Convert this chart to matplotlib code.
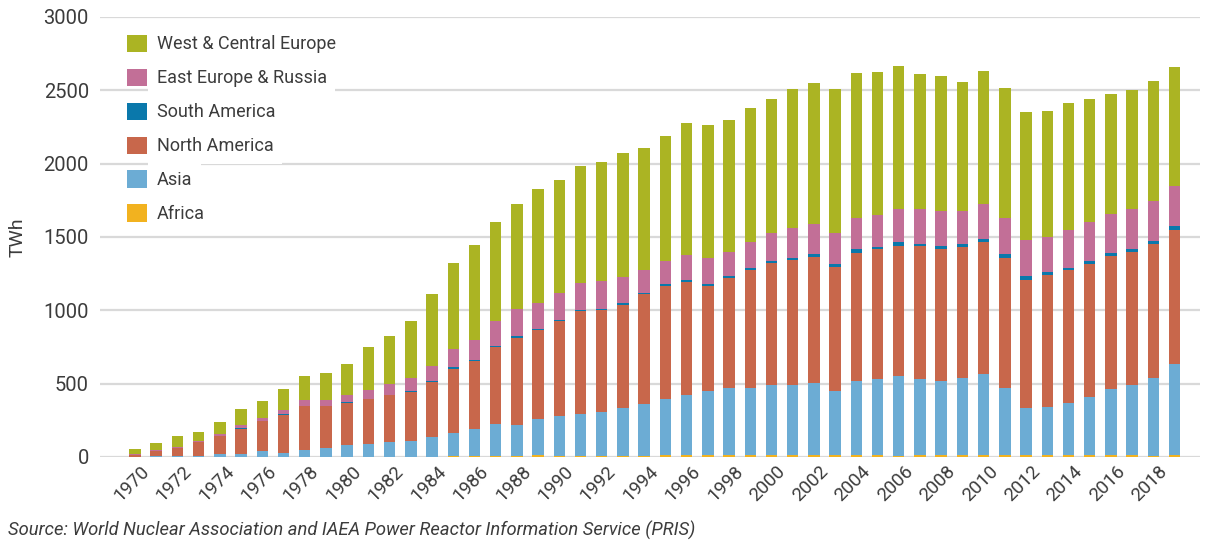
import matplotlib
matplotlib.use('Agg')
import matplotlib.pyplot as plt
import matplotlib.transforms as mtransforms
import numpy as np
from matplotlib.patches import Patch

plt.rcParams['font.family'] = ['Roboto', 'DejaVu Sans']

# ── data (TWh) ────────────────────────────────────────────
years = list(range(1970, 2020))

africa = [0, 0, 0, 0, 0, 0, 0, 0, 0, 0,
          0, 0, 0, 0, 3, 5, 9, 8, 10, 11,
          8, 9, 10, 7, 9, 11, 12, 12, 13, 13,
          13, 11, 12, 13, 14, 12, 10, 12, 12, 12,
          12, 13, 12, 14, 14, 11, 15, 15, 10, 13]
asia = [3, 5, 6, 8, 20, 23, 39, 27, 50, 64,
        84, 90, 105, 112, 133, 161, 180, 220, 211, 251,
        270, 287, 300, 330, 355, 383, 413, 438, 458, 458,
        476, 483, 493, 435, 502, 523, 540, 520, 504, 527,
        557, 458, 325, 327, 357, 398, 449, 474, 529, 619]
north_america = [13, 36, 58, 92, 121, 170, 204, 262, 298, 284,
                 287, 303, 316, 331, 375, 437, 464, 524, 593, 602,
                 647, 700, 695, 702, 746, 772, 769, 719, 750, 807,
                 834, 852, 859, 848, 878, 881, 892, 905, 902, 891,
                 897, 889, 873, 898, 907, 905, 909, 912, 916, 919]
south_america = [0, 0, 0, 0, 2, 2, 2, 3, 3, 3,
                 3, 4, 5, 6, 8, 10, 9, 8, 9, 12,
                 12, 9, 7, 11, 11, 12, 11, 9, 13, 9,
                 12, 14, 20, 20, 22, 16, 22, 18, 22, 22,
                 21, 22, 22, 19, 14, 21, 21, 15, 21, 24]
east_europe = [3, 4, 5, 6, 17, 21, 21, 29, 36, 40,
               51, 62, 74, 90, 102, 122, 134, 165, 186, 177,
               184, 182, 186, 178, 152, 159, 175, 179, 164, 179,
               193, 198, 203, 212, 214, 221, 227, 236, 238, 226,
               241, 250, 246, 240, 259, 266, 261, 275, 270, 271]
west_europe = [33, 53, 74, 65, 79, 109, 119, 145, 163, 182,
               212, 291, 323, 386, 493, 591, 648, 674, 714, 777,
               771, 798, 810, 845, 837, 852, 894, 905, 898, 914,
               914, 952, 966, 978, 989, 973, 974, 917, 918, 880,
               902, 885, 871, 862, 864, 841, 823, 810, 816, 814]

series_names = ['Africa', 'Asia', 'North America', 'South America',
                'East Europe & Russia', 'West & Central Europe']
series_vals = [africa, asia, north_america, south_america,
               east_europe, west_europe]
series_colors = ['#f2b21f', '#6cacd4', '#c8674b', '#0a78ab',
                 '#c26f97', '#abb423']

TXT = '#3c3c3c'
GRID = '#d9d9d9'

fig = plt.figure(figsize=(12.08, 5.43), dpi=100)
ax = fig.add_axes([100 / 1208, 1 - 457 / 543, 1100 / 1208, 440 / 543])

x = np.array(years)
bottom = np.zeros(len(years))
for name, vals, col in zip(series_names, series_vals, series_colors):
    v = np.array(vals, dtype=float)
    ax.bar(x, v, bottom=bottom, width=0.54, color=col, linewidth=0, zorder=2)
    bottom += v

ax.set_ylim(0, 3000)
ax.set_xlim(1968.35, 2020.2)
ax.set_yticks(range(0, 3001, 500))
ax.yaxis.grid(True, color=GRID, linewidth=1.6)
ax.set_axisbelow(True)
for s in ax.spines.values():
    s.set_visible(False)

ax.set_xticks(years[::2])
ax.set_xticklabels([str(y) for y in years[::2]], rotation=45, ha='right',
                   rotation_mode='anchor', fontsize=13.5, color=TXT)
ax.tick_params(axis='x', length=0, pad=4)
shift = mtransforms.ScaledTranslation(5 / 100, 0, fig.dpi_scale_trans)
for lab in ax.get_xticklabels():
    lab.set_transform(lab.get_transform() + shift)
ax.tick_params(axis='y', length=0, pad=8, labelsize=14.5, labelcolor=TXT)
ax.set_ylabel('TWh', fontsize=14, color=TXT)
ax.yaxis.set_label_coords(-73 / 1100, 0.5)

handles = [Patch(facecolor=c, edgecolor='none') for c in series_colors][::-1]
leg = ax.legend(handles, series_names[::-1], loc='upper left',
                bbox_to_anchor=(0.0245, 0.96), borderaxespad=0, borderpad=0,
                frameon=False, fontsize=13, handlelength=1.1, handleheight=1.1,
                handletextpad=0.55, labelspacing=0.84)
for t in leg.get_texts():
    t.set_color(TXT)
    t.set_bbox(dict(facecolor='white', edgecolor='none', pad=6))

fig.text(8 / 1208, 1 - 530 / 543,
         'Source: World Nuclear Association and IAEA Power Reactor Information Service (PRIS)',
         fontsize=13.2, style='italic', color=TXT, va='center', ha='left')

fig.savefig('out.png', dpi=100, facecolor='white')
